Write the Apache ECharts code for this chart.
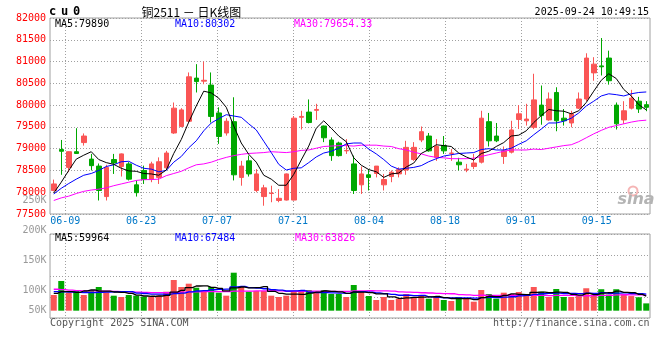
<!DOCTYPE html>
<html><head><meta charset="utf-8">
<script src="https://cdn.jsdelivr.net/npm/echarts@6/dist/echarts.min.js"></script>
<style>html,body{margin:0;padding:0;background:#fff}#c{width:660px;height:360px}</style>
</head><body><div id="c"></div>
<script>
// ---------- data ----------
const dates = ['06-05','06-06','06-09','06-10','06-11','06-12','06-13','06-16','06-17','06-18','06-19','06-20','06-23','06-24','06-25','06-26','06-27','06-30',
'07-01','07-02','07-03','07-04','07-07','07-08','07-09','07-10','07-11','07-14','07-15','07-16','07-17','07-18','07-21','07-22','07-23','07-24','07-25','07-28','07-29','07-30','07-31',
'08-01','08-04','08-05','08-06','08-07','08-08','08-11','08-12','08-13','08-14','08-15','08-18','08-19','08-20','08-21','08-22','08-25','08-26','08-27','08-28','08-29',
'09-01','09-02','09-03','09-04','09-05','09-08','09-09','09-10','09-11','09-12','09-15','09-16','09-17','09-18','09-19','09-22','09-23','09-24'];
const labelDates = ['06-09','06-23','07-07','07-21','08-04','08-18','09-01','09-15'];

const openP = [78040,78980,78570,78930,79140,78760,78600,77900,78750,78590,78650,78170,78500,78300,78340,78560,79360,79510,79630,80620,
80550,80460,79820,79360,79620,78340,78720,78040,77900,77970,77810,77820,77820,79720,79840,79880,79520,79200,79130,78950,
78650,78170,78400,78430,78170,78360,78420,78510,78750,79200,79290,78800,79070,78890,78690,78510,78590,78690,79620,79290,
78820,78920,79670,79640,79490,80000,79660,80290,79700,79590,79930,80140,80740,80900,81080,80000,79660,79930,80090,80010];
const closeP = [78190,78940,78930,78890,79290,78610,78040,78570,78670,78880,78300,77990,78290,78650,78700,78900,79930,79890,80650,80540,
80570,79740,79280,79630,78400,78600,78420,78420,78100,77980,77860,78420,79700,79740,79600,79900,79250,78840,78840,78960,
78040,78420,78340,78600,78290,78460,78520,79030,79030,79390,78950,79050,78950,78900,78630,78530,78670,79700,79180,79180,
78950,79430,79800,79680,80120,79760,80140,79640,79640,79800,80140,81080,80940,80880,80560,79570,79870,80160,79910,79950];
const lowP = [78020,78400,78460,78880,79070,78500,77810,77810,78420,78360,78270,77900,78190,78230,78190,78540,79340,79490,79600,80290,
80480,79600,79110,79300,78270,78150,78360,78000,77690,77770,77770,77810,77810,79440,79580,79660,79150,78720,78820,78880,
77960,77960,78040,78340,78040,78230,78340,78400,78720,79150,78930,78720,78880,78720,78500,78460,78530,78660,79050,79150,
78650,78890,79450,79530,79450,79550,79640,79400,79530,79490,79910,80090,80560,80680,80470,79440,79570,79900,79820,79860];
const highP = [78290,79200,78940,79470,79350,78880,78660,78630,78880,78890,78690,78270,78610,78700,78800,78950,80060,79930,80750,80940,
81000,80750,79950,79700,80180,78720,78840,78530,78170,78150,78070,78430,79750,79870,80130,80030,79530,79260,79160,79220,
78840,78590,78530,78600,78420,78500,78570,79180,79150,79510,79360,79220,79290,78990,78790,78650,78880,79870,79820,79590,
79050,79640,80000,80030,80720,80450,80290,80410,79910,79870,80290,81190,81100,81540,81250,80060,80090,80350,80190,80090];

const ma5 = [77980,78230,78500,78760,78850,78930,78750,78680,78640,78550,78490,78480,78430,78420,78390,78510,78890,79210,79610,79980,
80320,80280,80160,79950,79520,79130,78870,78690,78390,78300,78160,78160,78410,78740,79060,79470,79640,79470,79290,79160,
78790,78620,78520,78470,78340,78420,78440,78580,78670,78890,78980,79090,79070,79050,78900,78810,78740,78890,78940,79050,
79140,79290,79310,79410,79600,79760,79900,79870,79860,79800,79870,80060,80320,80570,80720,80610,80360,80210,80010,79890];
const ma10 = [77960,78090,78200,78300,78390,78430,78500,78590,78630,78700,78710,78620,78550,78530,78470,78500,78690,78820,79020,79180,
79410,79590,79690,79780,79750,79720,79570,79430,79170,78910,78640,78510,78550,78560,78680,78810,78900,78940,79010,79110,
79130,79130,78990,78880,78750,78600,78530,78550,78570,78610,78700,78770,78830,78860,78890,78900,78910,78980,79000,78970,
78970,79010,79100,79180,79320,79450,79590,79590,79630,79700,79820,79980,80090,80210,80260,80240,80210,80260,80290,80302];
const ma30 = [77810,77870,77910,77970,78020,78050,78070,78100,78150,78190,78230,78270,78290,78290,78300,78380,78430,78480,78560,78630,
78650,78690,78750,78800,78840,78870,78890,78900,78910,78930,78920,78910,78930,78960,78970,79010,79050,79060,79070,79070,
79060,79080,79080,79080,79060,79050,79000,78970,78920,78880,78830,78800,78790,78770,78770,78770,78780,78820,78860,78900,
78940,78970,78970,78970,78990,78980,79010,79040,79070,79090,79160,79250,79340,79420,79490,79530,79570,79610,79640,79654];

const volume = [64400,121800,72600,80800,64400,84900,97200,75400,61500,56200,64400,61500,57400,56200,61500,77900,125900,97200,110700,94300,
80800,97200,73800,61500,155800,97200,77900,80800,80800,61500,56200,61500,77900,77900,84900,77900,84900,68500,68500,56200,
105400,80800,60300,43900,56200,43900,49200,68500,56200,60300,49200,56200,43900,39800,56200,49200,36900,84900,68500,49200,
73800,68500,76700,60300,97200,77900,56200,89000,56200,56200,60000,92000,66000,88000,66000,88000,67000,60000,55000,30000];
const volMa5 = [71000,78000,78000,75000,80800,84900,80000,80500,76700,75000,70900,63800,60200,59100,60200,62900,75800,83700,94600,101200,
101800,96000,91400,81500,93800,97100,93200,94600,98500,79600,71400,68200,67600,67000,71700,76000,80700,78800,76900,71200,
76700,75900,74200,69300,69300,57000,50700,52300,54800,55600,56700,58100,53200,49900,49100,49100,45200,53400,59100,57700,
62700,69000,67300,65700,75300,76100,73700,76100,75300,67100,63500,70700,66100,72400,74400,80000,75000,73800,67200,59964];
const volMa10 = [78000,77000,76000,75000,74000,74000,75000,76000,77000,77900,77900,71900,70400,67900,67600,66900,69800,72000,76900,80700,
82300,85900,87600,88100,97500,99400,94600,93000,90000,86700,84300,80700,81100,82800,75700,73700,74400,73200,72000,71400,
76400,78300,76500,73100,70300,66900,63300,63300,62100,62500,56900,54400,52800,52300,52300,52900,51600,53300,54500,53400,
55900,57100,60400,62400,66500,69400,71300,71700,70500,71200,69800,72200,71100,73900,70800,71800,72800,69900,69800,67484];
const volMa30 = [88000,86000,84000,82000,81000,81000,80000,80000,79000,78000,77000,76000,75000,74000,74000,74000,75000,76000,77000,77000,
78000,78000,78000,78000,80000,80000,80000,81000,81000,81800,81500,79500,79700,79600,80300,80000,79600,79400,79600,79600,
81000,81600,81700,81300,81100,80000,77500,76500,74700,73500,72500,71100,70100,69400,66100,64500,63100,63300,62800,62400,
63000,63300,63200,62600,63000,63000,62100,62800,62400,62400,60800,61200,61400,62900,63200,64700,65300,65000,64900,63826];

const legendMain = {ma5: '79890', ma10: '80302', ma30: '79654.33'};
const legendVol = {ma5: '59964', ma10: '67484', ma30: '63826'};
const volTickLabels = ['250K','200K','150K','100K','50K'];
const symbolName = 'cu0';
const titleText = '铜2511 － 日K线图';
const timeText = '2025-09-24 10:49:15';

// ---------- styling / layout ----------
const RED = '#fa5555', GREEN = '#00a800';
const MONO = '"DejaVu Sans Mono", "Liberation Mono", monospace';
const GRIDC = '#a0a0a0';
const dotted = {color: GRIDC, width: 1, type: [1, 2]};
const isLabel = (idx, val) => labelDates.indexOf(val) >= 0;
const volTickY = [200, 230, 260.5, 290, 310.5];

const chart = echarts.init(document.getElementById('c'), null, {renderer: 'canvas'});

const txt = (x, y, text, color, align, font) => ({
  type: 'text', x: x, y: y, silent: true, z: 100,
  style: {text: text, fill: color, align: align || 'left', verticalAlign: 'middle', font: font || ('10px ' + MONO)}
});

const graphics = [
  {type: 'text', x: 49, y: 11.5, silent: true, z: 100,
   style: {text: symbolName.split('').map(c => '{c|' + c + '}').join(''), verticalAlign: 'middle',
     rich: {c: {font: 'bold 12px ' + MONO, fill: '#000', width: 12}}}},
  txt(141.5, 12, titleText, '#000', 'left', '12px "Noto Sans CJK SC"'),
  txt(649, 12, timeText, '#000', 'right'),
  txt(55, 24, 'MA5:' + legendMain.ma5, '#000'),
  txt(175, 24, 'MA10:' + legendMain.ma10, '#0000ff'),
  txt(294, 24, 'MA30:' + legendMain.ma30, '#ff00ff'),
  txt(55, 238, 'MA5:' + legendVol.ma5, '#000'),
  txt(175, 238, 'MA10:' + legendVol.ma10, '#0000ff'),
  txt(295, 238, 'MA30:' + legendVol.ma30, '#ff00ff'),
  txt(50, 323.5, 'Copyright 2025 SINA.COM', '#555'),
  txt(649.5, 323.5, 'http://finance.sina.com.cn', '#555', 'right'),
  {type: 'circle', silent: true, z: 50, shape: {cx: 633, cy: 191, r: 4.5}, style: {fill: 'none', stroke: '#f5b5b5', lineWidth: 2}},
  txt(636, 200, 'sina', '#b4b4b4', 'center', 'italic bold 16px "DejaVu Sans"')
];
volTickLabels.forEach((t, i) => graphics.push(txt(46.5, volTickY[i], t, '#999', 'right')));

const option = {
  animation: false,
  backgroundColor: '#fff',
  grid: [
    {left: 50, top: 18, width: 600, height: 196, show: true, borderColor: GRIDC, borderWidth: 1, backgroundColor: 'transparent'},
    {left: 50, top: 234, width: 600, height: 84, show: true, borderColor: GRIDC, borderWidth: 1, backgroundColor: 'transparent'}
  ],
  xAxis: [
    {gridIndex: 0, type: 'category', position: 'bottom', data: dates, boundaryGap: true, show: false},
    {gridIndex: 0, type: 'category', position: 'bottom', data: dates, boundaryGap: false,
     axisLine: {show: false}, axisTick: {show: false},
     axisLabel: {interval: isLabel, hideOverlap: false, color: '#0078c8', fontFamily: MONO, fontSize: 10, margin: 2},
     splitLine: {show: true, interval: isLabel, lineStyle: dotted}},
    {gridIndex: 1, type: 'category', position: 'bottom', data: dates, boundaryGap: true, show: false},
    {gridIndex: 1, type: 'category', position: 'bottom', data: dates, boundaryGap: false,
     axisLine: {show: false}, axisTick: {show: false}, axisLabel: {show: false},
     splitLine: {show: true, interval: isLabel, lineStyle: dotted}}
  ],
  yAxis: [
    {gridIndex: 0, type: 'value', position: 'left', min: 77500, max: 82000, interval: 500,
     axisLine: {show: false}, axisTick: {show: false},
     axisLabel: {color: '#f00', fontFamily: MONO, fontSize: 10, margin: 4, padding: [0, 0, 4, 0], formatter: v => String(v)},
     splitLine: {show: true, lineStyle: dotted}},
    {gridIndex: 1, type: 'value', position: 'left', min: -30000, max: 314500, show: false, splitLine: {show: false}},
    {gridIndex: 1, type: 'value', position: 'left', min: 0, max: 4, interval: 1,
     axisLine: {show: false}, axisTick: {show: false}, axisLabel: {show: false},
     splitLine: {show: true, lineStyle: dotted}}
  ],
  series: [
    {type: 'candlestick', xAxisIndex: 0, yAxisIndex: 0, barWidth: 5, silent: true,
     data: openP.map((o, i) => [o, closeP[i], lowP[i], highP[i]]),
     itemStyle: {color: RED, color0: GREEN, borderColor: RED, borderColor0: GREEN, borderWidth: 1}},
    {type: 'line', xAxisIndex: 0, yAxisIndex: 0, data: ma30, symbol: 'none', silent: true, lineStyle: {color: '#ff00ff', width: 1}},
    {type: 'line', xAxisIndex: 0, yAxisIndex: 0, data: ma10, symbol: 'none', silent: true, lineStyle: {color: '#0000ff', width: 1}},
    {type: 'line', xAxisIndex: 0, yAxisIndex: 0, data: ma5, symbol: 'none', silent: true, lineStyle: {color: '#000', width: 1}},
    {type: 'bar', xAxisIndex: 2, yAxisIndex: 1, barWidth: 6, silent: true,
     data: volume.map((v, i) => ({value: v, itemStyle: {color: closeP[i] >= openP[i] ? RED : GREEN}}))},
    {type: 'line', xAxisIndex: 2, yAxisIndex: 1, data: volMa30, step: 'middle', symbol: 'none', silent: true, lineStyle: {color: '#ff00ff', width: 1.3}},
    {type: 'line', xAxisIndex: 2, yAxisIndex: 1, data: volMa10, step: 'middle', symbol: 'none', silent: true, lineStyle: {color: '#0000ff', width: 1.3}},
    {type: 'line', xAxisIndex: 2, yAxisIndex: 1, data: volMa5, step: 'middle', symbol: 'none', silent: true, lineStyle: {color: '#000', width: 1.3}}
  ],
  graphic: graphics
};
chart.setOption(option);
</script>
</body></html>
